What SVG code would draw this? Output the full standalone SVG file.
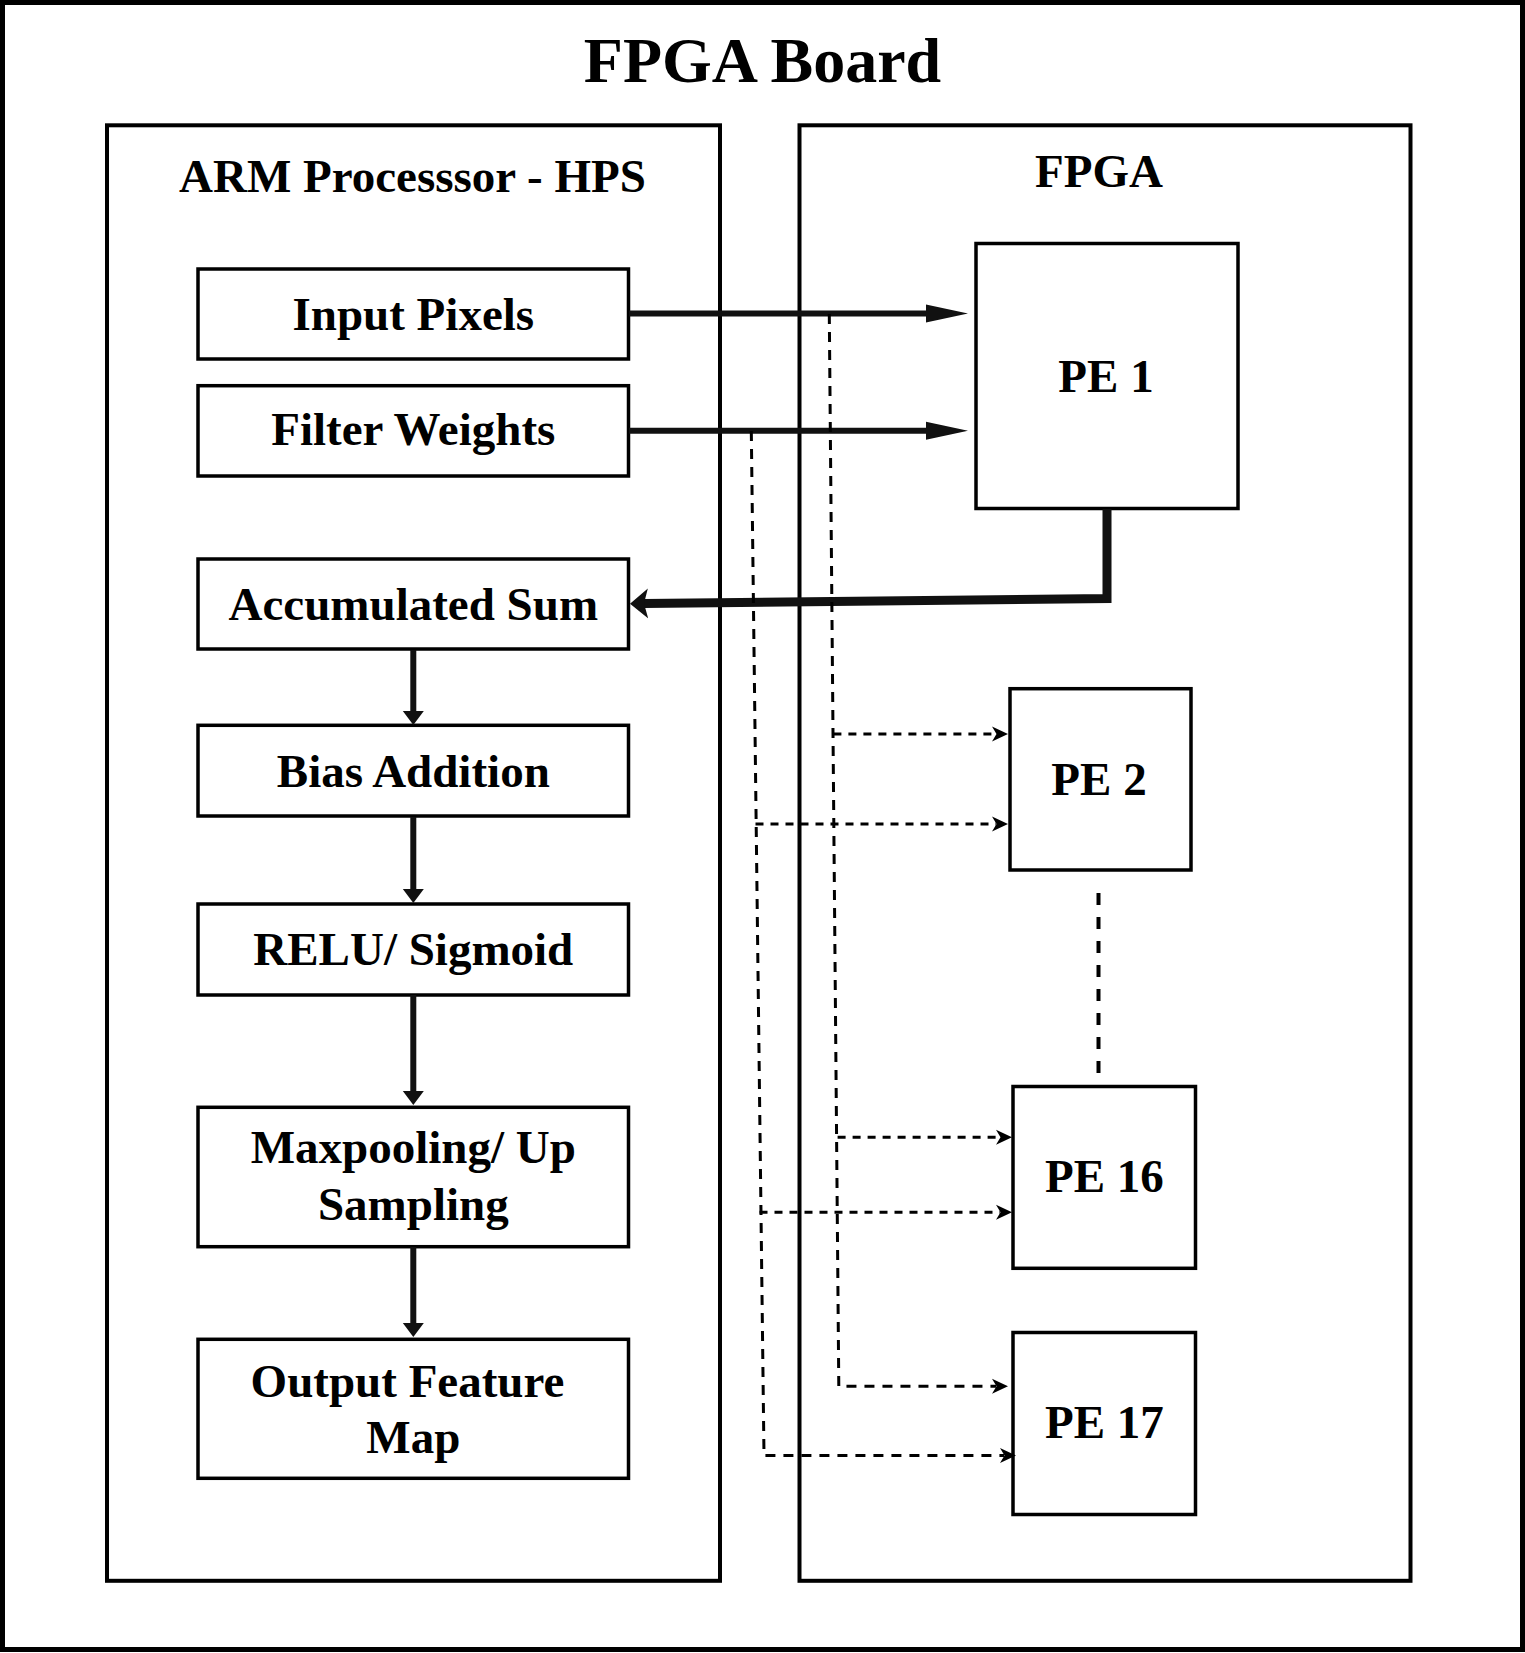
<svg xmlns="http://www.w3.org/2000/svg" width="1525" height="1653" viewBox="0 0 1525 1653">
<style>
.box{fill:#fff;stroke:#000;stroke-width:3.5}
.frame{fill:none;stroke:#000;stroke-width:4}
.lbl{font-family:"Liberation Serif","Times New Roman",serif;font-weight:bold;font-size:47px;fill:#000;text-anchor:middle}
.title{font-family:"Liberation Serif","Times New Roman",serif;font-weight:bold;font-size:64px;fill:#000;text-anchor:middle}
.solid{fill:none;stroke:#111;stroke-width:6}
.thick{fill:none;stroke:#111;stroke-width:9;stroke-linejoin:miter}
.dash{fill:none;stroke:#000;stroke-width:3;stroke-dasharray:10 8}
.hdash{fill:none;stroke:#000;stroke-width:3;stroke-dasharray:8 7}
.sep{fill:none;stroke:#000;stroke-width:4;stroke-dasharray:12 12}
</style>
<defs>
<marker id="bigHead" markerUnits="userSpaceOnUse" markerWidth="44" markerHeight="20" viewBox="0 0 44 20" refX="3" refY="10" orient="auto">
<path d="M0,1 L42,10 L0,19 Z" fill="#111"/>
</marker>
<marker id="accHead" markerUnits="userSpaceOnUse" markerWidth="20" markerHeight="32" viewBox="0 0 20 32" refX="4" refY="16" orient="auto">
<path d="M0,1 L18,16 L0,31 L4,16 Z" fill="#111"/>
</marker>
<marker id="downHead" markerUnits="userSpaceOnUse" markerWidth="16" markerHeight="24" viewBox="0 0 16 24" refX="1" refY="12" orient="auto">
<path d="M0,1.5 L14,12 L0,22.5 Z" fill="#111"/>
</marker>
<marker id="dashHead" markerUnits="userSpaceOnUse" markerWidth="18" markerHeight="18" viewBox="0 0 18 18" refX="4" refY="9" orient="auto">
<path d="M0,1.5 L16,9 L0,16.5 L4.5,9 Z" fill="#000"/>
</marker>
</defs>
<rect width="1525" height="1653" fill="#fff"/>
<g id="board">
<rect x="2.5" y="2.5" width="1520" height="1647" fill="none" stroke="#000" stroke-width="5"/>
<text class="title" x="762.5" y="82">FPGA Board</text>
</g>
<g id="arm">
<rect class="frame" x="107" y="125.3" width="613" height="1455.5"/>
<text class="lbl" x="412.5" y="191.7">ARM Processsor - HPS</text>
</g>
<g id="fpga">
<rect class="frame" x="799.5" y="125.3" width="611" height="1455.5"/>
<text class="lbl" x="1099" y="186.7">FPGA</text>
</g>
<g id="input-pixels">
<rect class="box" x="198" y="269" width="430.5" height="90"/>
<text class="lbl" x="413.3" y="330">Input Pixels</text>
</g>
<g id="filter-weights">
<rect class="box" x="198" y="385.7" width="430.5" height="90.3"/>
<text class="lbl" x="413.3" y="445">Filter Weights</text>
</g>
<g id="accumulated-sum">
<rect class="box" x="198" y="559" width="430.5" height="90"/>
<text class="lbl" x="413.3" y="620">Accumulated Sum</text>
</g>
<g id="bias-addition">
<rect class="box" x="198" y="725.3" width="430.5" height="90.7"/>
<text class="lbl" x="413.3" y="786.7">Bias Addition</text>
</g>
<g id="relu-sigmoid">
<rect class="box" x="198" y="904" width="430.5" height="91"/>
<text class="lbl" x="413.3" y="965">RELU/ Sigmoid</text>
</g>
<g id="maxpooling">
<rect class="box" x="198" y="1107.3" width="430.5" height="139.4"/>
<text class="lbl" x="413.3" y="1163">Maxpooling/ Up</text>
<text class="lbl" x="413.3" y="1220">Sampling</text>
</g>
<g id="output-feature-map">
<rect class="box" x="198" y="1339.3" width="430.5" height="139"/>
<text class="lbl" x="407.5" y="1396.7">Output Feature</text>
<text class="lbl" x="413.3" y="1453">Map</text>
</g>
<g id="pe1">
<rect class="box" x="976" y="243.5" width="262" height="265"/>
<text class="lbl" x="1106" y="391.7">PE 1</text>
</g>
<g id="pe2">
<rect class="box" x="1010" y="688.7" width="181" height="181.3"/>
<text class="lbl" x="1099" y="795">PE 2</text>
</g>
<g id="pe16">
<rect class="box" x="1013" y="1086.5" width="182.5" height="181.8"/>
<text class="lbl" x="1104.4" y="1191.7">PE 16</text>
</g>
<g id="pe17">
<rect class="box" x="1013" y="1332.5" width="182.5" height="182"/>
<text class="lbl" x="1104.4" y="1438.3">PE 17</text>
</g>
<g id="connectors">
<line class="solid" x1="629" y1="313.5" x2="929" y2="313.5" marker-end="url(#bigHead)"/>
<line class="solid" x1="629" y1="430.7" x2="929" y2="430.7" marker-end="url(#bigHead)"/>
<path class="thick" d="M1107,509 L1107,598.5 L644,603.5" marker-end="url(#accHead)"/>
<line class="solid" x1="413.3" y1="650" x2="413.3" y2="712" marker-end="url(#downHead)"/>
<line class="solid" x1="413.3" y1="817" x2="413.3" y2="890" marker-end="url(#downHead)"/>
<line class="solid" x1="413.3" y1="995" x2="413.3" y2="1092" marker-end="url(#downHead)"/>
<line class="solid" x1="413.3" y1="1247" x2="413.3" y2="1324" marker-end="url(#downHead)"/>
<path class="dash" d="M829.3,314 L838.8,1386.3 L996,1386.3" marker-end="url(#dashHead)"/>
<path class="hdash" d="M833.4,734 L996,734" marker-end="url(#dashHead)"/>
<path class="hdash" d="M837.6,1137.3 L1000,1137.3" marker-end="url(#dashHead)"/>
<path class="dash" d="M751.3,431 L764,1455.5 L1004,1455.5" marker-end="url(#dashHead)"/>
<path class="hdash" d="M755.5,824 L996,824" marker-end="url(#dashHead)"/>
<path class="hdash" d="M759.5,1212.3 L1000,1212.3" marker-end="url(#dashHead)"/>
<line class="sep" x1="1098.5" y1="893" x2="1098.5" y2="1074"/>
</g>
</svg>
